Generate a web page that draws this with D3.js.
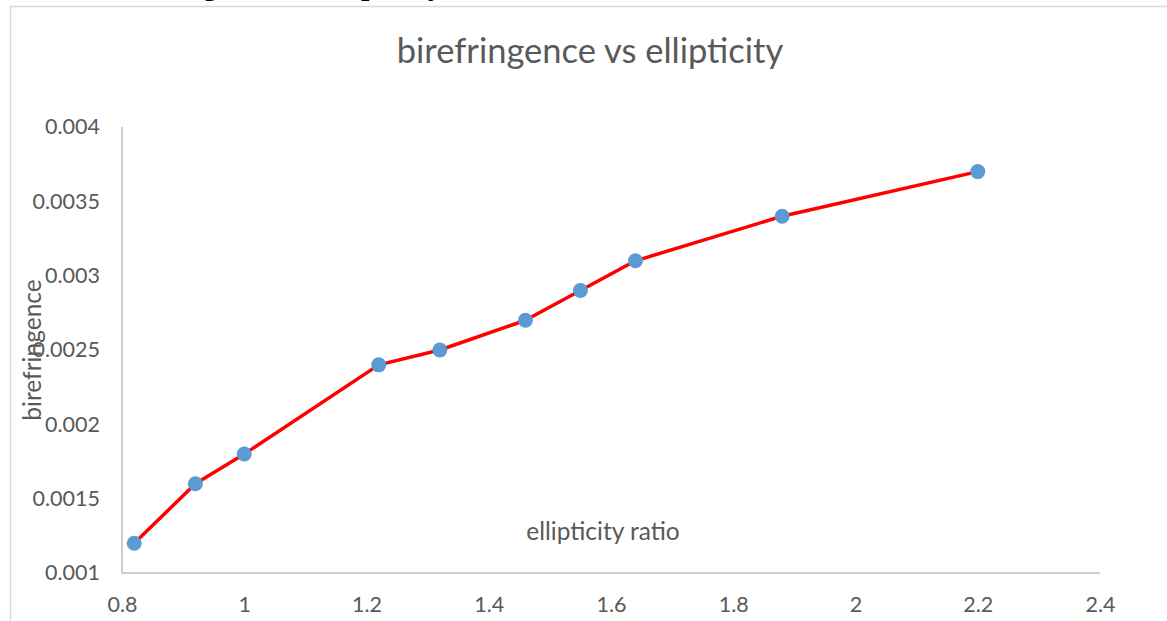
<!DOCTYPE html>
<html>
<head>
<meta charset="utf-8">
<script src="https://cdn.jsdelivr.net/npm/d3@7"></script>
<style>
  body { margin: 0; background: #fff; }
  svg { display: block; }
  .tick text { font-family: Lato, "Open Sans", sans-serif; fill: #595959; }
</style>
</head>
<body>
<div id="chart"></div>
<script>
// data
const ellipticity = [0.82, 0.92, 1.0, 1.22, 1.32, 1.46, 1.55, 1.64, 1.88, 2.2];
const birefringence = [0.0012, 0.0016, 0.0018, 0.0024, 0.0025, 0.0027, 0.0029, 0.0031, 0.0034, 0.0037];
const xTicks = [0.8, 1, 1.2, 1.4, 1.6, 1.8, 2, 2.2, 2.4];
const yTicks = [0.001, 0.0015, 0.002, 0.0025, 0.003, 0.0035, 0.004];

const W = 1167, H = 621;
const margin = { top: 127, right: 67, bottom: 48, left: 122 };
const width = W - margin.left - margin.right;
const height = H - margin.top - margin.bottom;

const svg = d3.select('#chart')
  .append('svg')
  .attr('width', W)
  .attr('height', H);

// chart frame
svg.append('rect')
  .attr('x', 10.5)
  .attr('y', 6.5)
  .attr('width', W + 20)
  .attr('height', H + 20)
  .attr('fill', '#fff')
  .attr('stroke', '#d9d9d9')
  .attr('stroke-width', 1.5);

// heading from the page above the chart, only its descenders are in view
svg.append('text')
  .attr('x', 100)
  .attr('y', -5)
  .style('font-family', '"Liberation Serif", serif')
  .style('font-weight', 'bold')
  .style('font-size', '30px')
  .attr('fill', '#000')
  .text('Birefringence vs Ellipticity');

const g = svg.append('g')
  .attr('transform', `translate(${margin.left},${margin.top})`);

const x = d3.scaleLinear().domain([0.8, 2.4]).range([0, width]);
const y = d3.scaleLinear().domain([0.001, 0.004]).range([height, 0]);

// axis lines
g.append('line')
  .attr('x1', 0).attr('x2', 0)
  .attr('y1', 0).attr('y2', height)
  .attr('stroke', '#bfbfbf').attr('stroke-width', 1.5);
g.append('line')
  .attr('x1', 0).attr('x2', width)
  .attr('y1', height).attr('y2', height)
  .attr('stroke', '#bfbfbf').attr('stroke-width', 1.5);

// X axis
const xAxis = g.append('g')
  .attr('transform', `translate(0,${height})`)
  .call(d3.axisBottom(x).tickValues(xTicks).tickSize(0).tickPadding(24).tickFormat(d => String(d)));
xAxis.select('.domain').remove();
xAxis.selectAll('text').style('font-size', '21.5px');

// Y axis
const yAxis = g.append('g')
  .call(d3.axisLeft(y).tickValues(yTicks).tickSize(0).tickPadding(22).tickFormat(d => String(+d.toFixed(4))));
yAxis.select('.domain').remove();
yAxis.selectAll('text').style('font-size', '21.5px');

// title
svg.append('text')
  .attr('x', 590)
  .attr('y', 63)
  .attr('text-anchor', 'middle')
  .style('font-family', 'Lato, "Open Sans", sans-serif')
  .style('font-size', '34.5px')
  .attr('fill', '#595959')
  .text('birefringence vs ellipticity');

// axis titles
svg.append('text')
  .attr('x', 603)
  .attr('y', 540)
  .attr('text-anchor', 'middle')
  .style('font-family', 'Lato, "Open Sans", sans-serif')
  .style('font-size', '24.5px')
  .attr('fill', '#595959')
  .text('ellipticity ratio');

svg.append('text')
  .attr('transform', 'translate(41,350) rotate(-90)')
  .attr('text-anchor', 'middle')
  .style('font-family', 'Lato, "Open Sans", sans-serif')
  .style('font-size', '24.5px')
  .attr('fill', '#595959')
  .text('birefringence');

// series line
const points = ellipticity.map((e, i) => [e, birefringence[i]]);
g.append('path')
  .datum(points)
  .attr('fill', 'none')
  .attr('stroke', '#ff0000')
  .attr('stroke-width', 3.5)
  .attr('stroke-linejoin', 'round')
  .attr('d', d3.line().x(d => x(d[0])).y(d => y(d[1])));

// markers
g.selectAll('.dot')
  .data(points)
  .enter()
  .append('circle')
  .attr('class', 'dot')
  .attr('cx', d => x(d[0]))
  .attr('cy', d => y(d[1]))
  .attr('r', 7.5)
  .attr('fill', '#5b9bd5');
</script>
</body>
</html>
